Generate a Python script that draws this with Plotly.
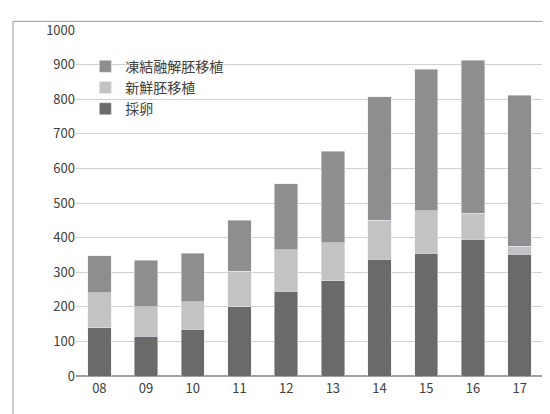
import plotly.graph_objects as go

years = ["08", "09", "10", "11", "12", "13", "14", "15", "16", "17"]
egg = [140, 115, 135, 200, 245, 275, 338, 355, 395, 352]
fresh = [100, 85, 80, 103, 120, 110, 112, 122, 75, 23]
frozen = [107, 135, 140, 147, 190, 265, 357, 410, 442, 437]

fig = go.Figure()
fig.add_bar(x=years, y=egg, name="採卵", marker_color="#6a6a6a")
fig.add_bar(x=years, y=fresh, name="新鮮胚移植", marker_color="#c3c3c3")
fig.add_bar(x=years, y=frozen, name="凍結融解胚移植", marker_color="#8e8e8e")

fig.update_layout(
    barmode="stack", bargap=0.5,
    width=550, height=414,
    paper_bgcolor="white", plot_bgcolor="white",
    margin=dict(l=68, r=15, t=14, b=46),
    font=dict(family="Noto Sans CJK JP", size=13, color="#404040"),
    legend=dict(x=0.02, y=0.94, traceorder="reversed", bgcolor="rgba(0,0,0,0)",
                font=dict(size=14)),
    shapes=[dict(type="rect", xref="paper", yref="paper", x0=-0.135, x1=1.025,
                 y0=-0.125, y1=1.025, line=dict(color="#999", width=1))],
)
fig.update_yaxes(range=[0, 1000], dtick=100, gridcolor="#d0d0d0",
                 showline=False, zeroline=True, zerolinecolor="#a0a0a0")
fig.update_xaxes(showline=True, linecolor="#a0a0a0")
fig.write_html("out.html")
